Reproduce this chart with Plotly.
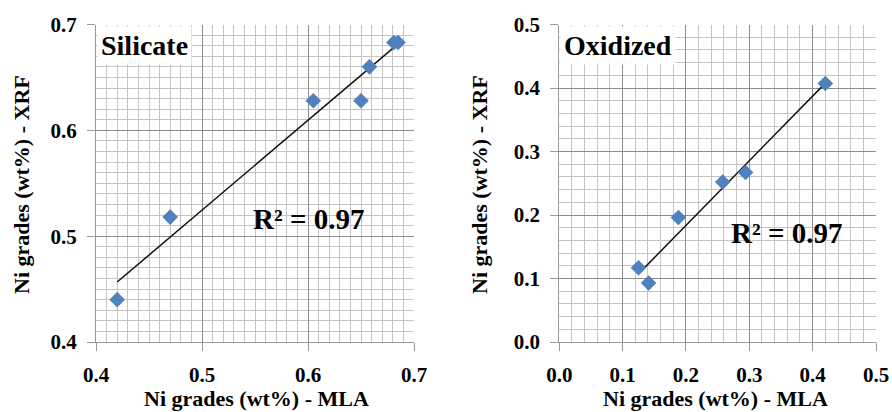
import numpy as np
import plotly.graph_objects as go

# Silicate data (Ni grades wt%)
sil_mla = [0.42, 0.47, 0.605, 0.65, 0.658, 0.681, 0.685]
sil_xrf = [0.44, 0.518, 0.628, 0.628, 0.66, 0.683, 0.683]

# Oxidized data
oxi_mla = [0.125, 0.141, 0.188, 0.258, 0.294, 0.42]
oxi_xrf = [0.117, 0.093, 0.196, 0.252, 0.267, 0.407]

sil_ticks = [0.4, 0.5, 0.6, 0.7]
sil_ticklabels = ["0.4", "0.5", "0.6", "0.7"]
oxi_ticks = [0.0, 0.1, 0.2, 0.3, 0.4, 0.5]
oxi_ticklabels = ["0.0", "0.1", "0.2", "0.3", "0.4", "0.5"]

panel_names = ["Silicate", "Oxidized"]
x_title = "Ni grades (wt%) - MLA"
y_title = "Ni grades (wt%) - XRF"

FONT = "Liberation Serif, Times New Roman, serif"
MARK = "#4F81BD"

W, H = 892, 412


def px(x):
    return x / W


def py(y):
    return 1 - y / H


def fit(x, y):
    x = np.asarray(x); y = np.asarray(y)
    m, b = np.polyfit(x, y, 1)
    r2 = np.corrcoef(x, y)[0, 1] ** 2
    xs = np.array([x.min(), x.max()])
    return xs, m * xs + b, r2


fig = go.Figure()

for i, (xv, yv) in enumerate([(sil_mla, sil_xrf), (oxi_mla, oxi_xrf)]):
    xa = "x" if i == 0 else "x2"
    ya = "y" if i == 0 else "y2"
    xs, ys, r2 = fit(xv, yv)
    fig.add_trace(go.Scatter(x=xs, y=ys, mode="lines", xaxis=xa, yaxis=ya,
                             line=dict(color="#111111", width=1.5), showlegend=False,
                             hoverinfo="skip"))
    fig.add_trace(go.Scatter(x=xv, y=yv, mode="markers", xaxis=xa, yaxis=ya,
                             marker=dict(symbol="diamond", size=12, color=MARK),
                             showlegend=False))

axis_common = dict(
    automargin=False,
    showline=True, linecolor="#999999", linewidth=1.2,
    ticks="outside", ticklen=8, tickcolor="#999999", tickwidth=1.2,
    showgrid=True, gridcolor="#8c8c8c", gridwidth=1.2,
    zeroline=False, mirror=False,
    tickfont=dict(family=FONT, size=21, color="black", weight="bold"),
)

ydom = [py(342), py(24.5)]

fig.update_layout(
    template="none",
    width=W, height=H,
    margin=dict(l=0, r=0, t=0, b=0),
    paper_bgcolor="white", plot_bgcolor="white",
    xaxis=dict(domain=[px(96), px(414)], range=[0.4, 0.7], tickvals=sil_ticks,
               ticktext=sil_ticklabels, anchor="y", ticklabelstandoff=6,
               minor=dict(dtick=0.01, showgrid=True, gridcolor="#c4c4c4", gridwidth=1,
                          ticks=""), **axis_common),
    yaxis=dict(domain=ydom, range=[0.4, 0.7], tickvals=sil_ticks, ticktext=sil_ticklabels,
               anchor="x", ticklabelstandoff=6,
               minor=dict(dtick=0.01, showgrid=True, gridcolor="#c4c4c4", gridwidth=1,
                          ticks=""), **axis_common),
    xaxis2=dict(domain=[px(559.3), px(876)], range=[0.0, 0.5], tickvals=oxi_ticks,
                ticktext=oxi_ticklabels, anchor="y2", ticklabelstandoff=6,
                minor=dict(dtick=0.02, showgrid=True, gridcolor="#c4c4c4", gridwidth=1,
                           ticks=""), **axis_common),
    yaxis2=dict(domain=ydom, range=[0.0, 0.5], tickvals=oxi_ticks, ticktext=oxi_ticklabels,
                anchor="x2", ticklabelstandoff=6,
                minor=dict(dtick=0.02, showgrid=True, gridcolor="#c4c4c4", gridwidth=1,
                           ticks=""), **axis_common),
)

tfont = dict(family=FONT, size=22, color="black", weight="bold")
ann = []
# axis titles
for cx, cy in [(256, 398), (715, 398)]:
    ann.append(dict(text=x_title, x=px(cx), y=py(cy), xref="paper", yref="paper",
                    showarrow=False, font=tfont, xanchor="center", yanchor="middle"))
for cx, cy in [(21, 185), (479, 185)]:
    ann.append(dict(text=y_title, x=px(cx), y=py(cy), xref="paper", yref="paper",
                    showarrow=False, font=tfont, textangle=-90,
                    xanchor="center", yanchor="middle"))
# panel names with white box
lfont = dict(family=FONT, size=28, color="black", weight="bold")
ann.append(dict(text=panel_names[0], x=0.4, y=0.7, xref="x", yref="y", showarrow=False,
                font=lfont, xanchor="left", yanchor="top", bgcolor="white", borderpad=3,
                xshift=1, yshift=-1))
ann.append(dict(text=panel_names[1], x=0.0, y=0.5, xref="x2", yref="y2", showarrow=False,
                font=lfont, xanchor="left", yanchor="top", bgcolor="white", borderpad=3,
                xshift=1, yshift=-1))
# R^2 labels
r2_s = fit(sil_mla, sil_xrf)[2]
r2_o = fit(oxi_mla, oxi_xrf)[2]
rfont = dict(family=FONT, size=29, color="black", weight="bold")
ann.append(dict(text=f"R² = {r2_s:.2f}", x=0.600, y=0.516, xref="x", yref="y",
                showarrow=False, font=rfont))
ann.append(dict(text=f"R² = {r2_o:.2f}", x=0.358, y=0.172, xref="x2", yref="y2",
                showarrow=False, font=rfont))
fig.update_layout(annotations=ann)

fig.write_html(
    "out.html",
    config={"displayModeBar": False},
    post_script="document.body.style.margin='0';document.body.style.overflow='hidden';"
                "document.documentElement.style.overflow='hidden';",
)
